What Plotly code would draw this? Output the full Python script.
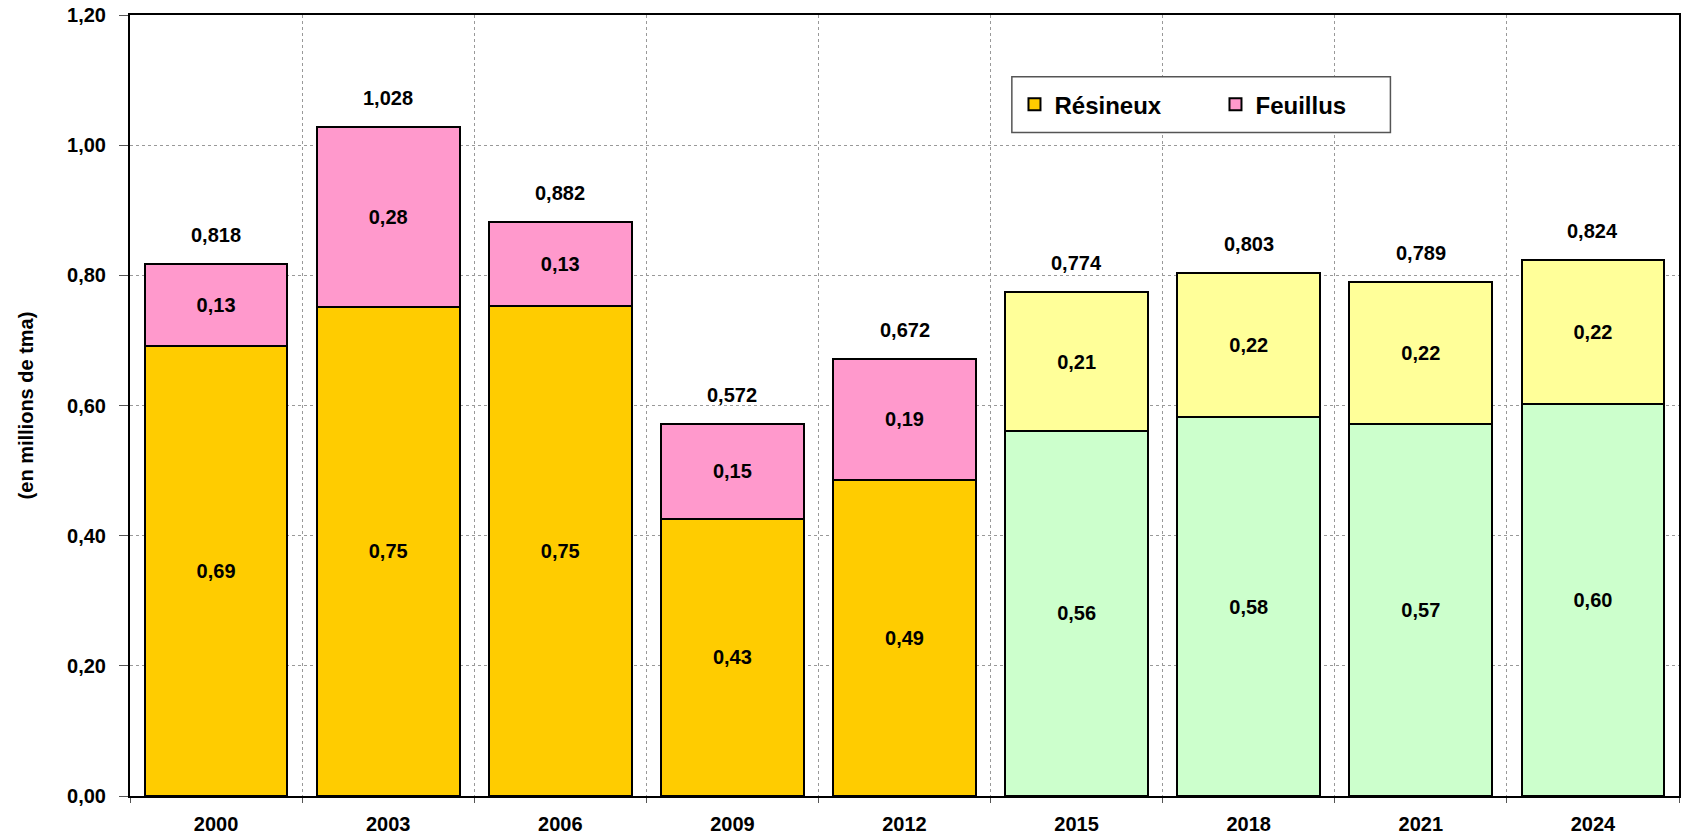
import plotly.graph_objects as go

annees = ["2000", "2003", "2006", "2009", "2012", "2015", "2018", "2021", "2024"]
resineux = [0.692, 0.752, 0.753, 0.426, 0.486, 0.561, 0.582, 0.572, 0.602]
feuillus = [0.126, 0.276, 0.129, 0.146, 0.186, 0.213, 0.221, 0.217, 0.222]
totaux = [0.818, 1.028, 0.882, 0.572, 0.672, 0.774, 0.803, 0.789, 0.824]

# les 5 premieres annees en couleurs pleines, les suivantes en pastel
coul_res = ["#FFCC00"] * 5 + ["#CCFFCC"] * 4
coul_feu = ["#FF99CC"] * 5 + ["#FFFF99"] * 4

police = "Arial, Liberation Sans, sans-serif"
gras = dict(family=police, size=20, color="black", weight="bold")

fig = go.Figure()

fig.add_trace(go.Bar(
    x=annees,
    y=resineux,
    name="Résineux",
    marker=dict(color=coul_res, line=dict(color="black", width=2)),
    text=[f"{v:.2f}".replace(".", ",") for v in resineux],
    textposition="inside",
    insidetextanchor="middle",
    textangle=0,
    textfont=gras,
))

fig.add_trace(go.Bar(
    x=annees,
    y=feuillus,
    name="Feuillus",
    marker=dict(color=coul_feu, line=dict(color="black", width=2)),
    text=[f"{v:.2f}".replace(".", ",") for v in feuillus],
    textposition="inside",
    insidetextanchor="middle",
    textangle=0,
    textfont=gras,
))

# totaux au-dessus des barres (x = indice de categorie)
for i, t in enumerate(totaux):
    fig.add_annotation(
        x=i, y=t,
        text=f"{t:.3f}".replace(".", ","),
        showarrow=False,
        yanchor="bottom",
        yshift=16,
        font=gras,
    )

# cadre de la legende
fig.add_shape(
    type="rect", xref="paper", yref="paper",
    x0=0.5693, x1=0.8137, y0=0.8495, y1=0.9209,
    fillcolor="white", line=dict(color="#555555", width=1.5),
    layer="above",
)

fig.update_layout(
    barmode="stack",
    bargap=0.17,
    width=1683,
    height=837,
    margin=dict(l=130, r=2, t=15, b=38),
    plot_bgcolor="white",
    paper_bgcolor="white",
    separators=", ",
    font=dict(family=police, size=20, color="black"),
    legend=dict(
        orientation="h",
        x=0.571, y=0.8852,
        xanchor="left", yanchor="middle",
        bgcolor="rgba(0,0,0,0)",
        borderwidth=0,
        font=dict(family=police, size=24, color="black", weight="bold"),
        traceorder="normal",
        itemwidth=30,
        entrywidth=156,
    ),
    yaxis=dict(
        range=[0, 1.2],
        dtick=0.2,
        tickformat=".2f",
        showgrid=True,
        gridcolor="#999999",
        griddash="dot",
        gridwidth=1,
        ticks="outside",
        ticklen=9,
        tickcolor="#555555",
        ticklabelstandoff=9,
        showline=True,
        linecolor="black",
        linewidth=2,
        mirror=True,
        zeroline=False,
        tickfont=gras,
        title=dict(text="(en millions de tma)",
                   font=dict(family=police, size=20, color="black", weight="bold"),
                   standoff=28),
    ),
    xaxis=dict(
        type="category",
        tickson="boundaries",
        ticks="outside",
        ticklen=5,
        tickcolor="#555555",
        ticklabelstandoff=9,
        showgrid=True,
        gridcolor="#999999",
        griddash="dot",
        gridwidth=1,
        showline=True,
        linecolor="black",
        linewidth=2,
        mirror=True,
        tickfont=gras,
    ),
)

fig.write_html("out.html", config={"displayModeBar": False},
               post_script="document.body.style.margin='0';")
